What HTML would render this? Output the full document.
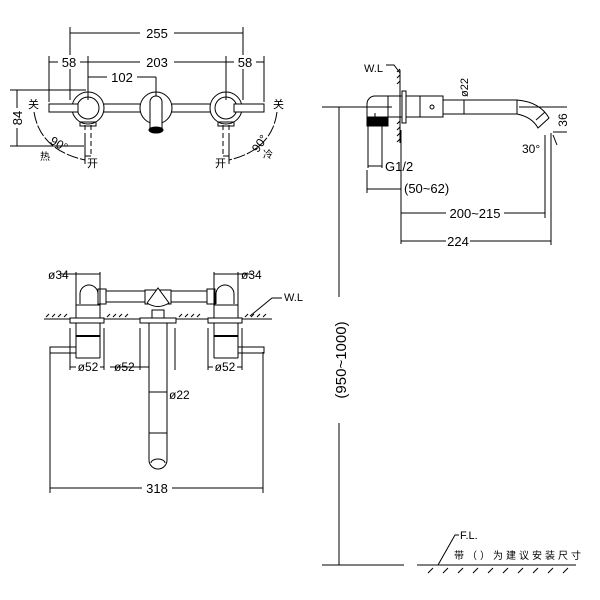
<!DOCTYPE html>
<html><head><meta charset="utf-8"><style>
html,body{margin:0;padding:0;background:#fff}
svg{display:block}
text{font-family:"Liberation Sans","Noto Sans CJK SC",sans-serif;fill:#000}
</style></head><body>
<svg width="600" height="600" viewBox="0 0 600 600" xmlns="http://www.w3.org/2000/svg" stroke="#000" fill="none" stroke-width="1">
<!-- TOP VIEW -->
<g>
<line x1="70" y1="33" x2="243" y2="33"/><line x1="70" y1="27" x2="70" y2="100"/><line x1="243" y1="27" x2="243" y2="100"/>
<rect x="140" y="26" width="34" height="14" fill="#fff" stroke="none"/>
<text x="157" y="38" font-size="13" text-anchor="middle" stroke="none">255</text>
<line x1="49" y1="62" x2="264" y2="62"/>
<line x1="49" y1="56" x2="49" y2="102"/><line x1="88" y1="56" x2="88" y2="100"/><line x1="226" y1="56" x2="226" y2="100"/><line x1="264" y1="56" x2="264" y2="102"/>
<rect x="58" y="55" width="22" height="14" fill="#fff" stroke="none"/><rect x="140" y="55" width="34" height="14" fill="#fff" stroke="none"/><rect x="234" y="55" width="22" height="14" fill="#fff" stroke="none"/>
<text x="69" y="67" font-size="13" text-anchor="middle" stroke="none">58</text>
<text x="157" y="67" font-size="13" text-anchor="middle" stroke="none">203</text>
<text x="245" y="67" font-size="13" text-anchor="middle" stroke="none">58</text>
<line x1="88" y1="77" x2="156" y2="77"/><line x1="156" y1="77" x2="156" y2="100"/>
<rect x="107" y="70" width="30" height="14" fill="#fff" stroke="none"/>
<text x="122" y="82" font-size="13" text-anchor="middle" stroke="none">102</text>
<line x1="10" y1="90" x2="86" y2="90"/><line x1="10" y1="146" x2="84" y2="146"/><line x1="17" y1="90" x2="17" y2="146"/>
<rect x="10" y="108" width="14" height="20" fill="#fff" stroke="none"/>
<text x="22" y="118" font-size="13" text-anchor="middle" stroke="none" transform="rotate(-90 22 118)">84</text>
<!-- pipes -->
<line x1="104" y1="104" x2="140" y2="104"/><line x1="104" y1="112" x2="140" y2="112"/>
<line x1="172" y1="104" x2="210" y2="104"/><line x1="172" y1="112" x2="210" y2="112"/>
<!-- handles -->
<circle cx="88" cy="108" r="16"/><circle cx="88" cy="108" r="11"/>
<circle cx="226" cy="108" r="16"/><circle cx="226" cy="108" r="11"/>
<rect x="49" y="104" width="29" height="8" fill="#fff"/><rect x="234" y="104" width="30" height="8" fill="#fff"/>
<path d="M80 122 h16 v4 h-16z"/><path d="M218 122 h16 v4 h-16z"/>
<!-- spout -->
<circle cx="156" cy="108" r="16"/>
<path d="M150 128 V102 a6 6 0 0 1 12 0 V128" fill="#fff"/>
<ellipse cx="156" cy="130" rx="7" ry="3" fill="#000"/>
<!-- dashed lines -->
<g stroke-dasharray="5,3"><line x1="85" y1="125" x2="85" y2="156"/><line x1="91" y1="125" x2="91" y2="156"/><line x1="223" y1="125" x2="223" y2="156"/><line x1="229" y1="125" x2="229" y2="156"/></g>
<line x1="85" y1="156" x2="91" y2="156"/><line x1="223" y1="156" x2="229" y2="156"/>
<line x1="85" y1="134" x2="85" y2="164"/><line x1="229" y1="134" x2="229" y2="164"/>
<path d="M34 112 Q40 150 85 160" stroke-dasharray="12,2"/>
<path d="M277 112 Q272 150 229 160" stroke-dasharray="12,2"/>
<text x="28" y="108" font-size="11" stroke="none">关</text>
<text x="273" y="108" font-size="11" stroke="none">关</text>
<text x="87" y="167" font-size="11" stroke="none">开</text>
<text x="215" y="167" font-size="11" stroke="none">开</text>
<text x="40" y="160" font-size="10" stroke="none">热</text>
<text x="263" y="158" font-size="10" stroke="none">冷</text>
<text x="48" y="147" font-size="12" stroke="none" transform="rotate(30 56 147)">90°</text>
<text x="252" y="148" font-size="12" stroke="none" transform="rotate(-55 260 145)">90°</text>
</g>
<!-- SIDE VIEW -->
<g>
<text x="364" y="72" font-size="11" stroke="none">W.L</text>
<path d="M386 65 h8 l6 8"/>
<line x1="400" y1="70" x2="400" y2="143"/>
<path d="M397 72 l3 -3 M397 78 l3 -3 M397 84 l3 -3 M397 124 l3 -3 M397 130 l3 -3 M397 136 l3 -3 M397 142 l3 -3"/>
<line x1="322" y1="107" x2="392" y2="107"/>
<line x1="339" y1="107" x2="339" y2="297"/><line x1="339" y1="423" x2="339" y2="565"/>
<text x="346" y="360" font-size="15" text-anchor="middle" stroke="none" transform="rotate(-90 346 360)">(950~1000)</text>
<path d="M367 117 V104 a8 8 0 0 1 8 -8 H388" />
<rect x="367" y="117" width="21" height="9" fill="#000"/>
<line x1="375" y1="113" x2="375" y2="117"/>
<rect x="388" y="96" width="14" height="21"/>
<rect x="402" y="91" width="4" height="32" fill="#fff"/>
<rect x="406" y="96" width="14" height="21"/>
<rect x="420" y="96" width="23" height="21"/>
<circle cx="432" cy="107" r="2"/>
<rect x="443" y="100" width="74" height="14"/>
<line x1="464" y1="100" x2="464" y2="114"/>
<path d="M517 100 Q540 102 549 118 L538 128 Q532 117 517 114"/>
<line x1="536" y1="120" x2="545" y2="112"/>
<text x="468" y="97" font-size="11" stroke="none" transform="rotate(-90 468 97)">ø22</text>
<line x1="519" y1="107" x2="567" y2="107"/><line x1="553" y1="132" x2="567" y2="132"/>
<text x="567" y="120" font-size="12" text-anchor="middle" stroke="none" transform="rotate(-90 567 120)">36</text>
<text x="522" y="153" font-size="12" stroke="none">30°</text>
<path d="M553 135 l4 10"/>
<line x1="368" y1="122" x2="368" y2="168"/><line x1="382" y1="122" x2="382" y2="168"/><line x1="368" y1="166" x2="382" y2="166"/>
<text x="385" y="171" font-size="13" stroke="none">G1/2</text>
<line x1="367" y1="170" x2="367" y2="193"/><line x1="367" y1="189" x2="401" y2="189"/>
<line x1="401" y1="130" x2="401" y2="244"/>
<text x="404" y="193" font-size="13" stroke="none">(50~62)</text>
<line x1="401" y1="213" x2="545" y2="213"/><line x1="545" y1="135" x2="545" y2="218"/>
<rect x="446" y="206" width="58" height="14" fill="#fff" stroke="none"/>
<text x="475" y="218" font-size="13" text-anchor="middle" stroke="none">200~215</text>
<line x1="401" y1="241" x2="551" y2="241"/><line x1="551" y1="133" x2="551" y2="245"/>
<rect x="446" y="234" width="24" height="14" fill="#fff" stroke="none"/>
<text x="458" y="246" font-size="13" text-anchor="middle" stroke="none">224</text>
<!-- floor -->
<line x1="322" y1="565" x2="404" y2="565"/><line x1="417" y1="565" x2="576" y2="565"/>
<path d="M428 573 l5 -5 M443 573 l5 -5 M458 573 l5 -5 M473 573 l5 -5 M488 573 l5 -5 M503 573 l5 -5 M518 573 l5 -5 M533 573 l5 -5 M548 573 l5 -5 M563 573 l5 -5"/>
<path d="M438 565 l17 -30 h4"/>
<text x="460" y="539" font-size="11" stroke="none">F.L.</text>
<text x="454" y="559" font-size="10" stroke="none" letter-spacing="3">带（）为建议安装尺寸</text>
</g>
<!-- FRONT VIEW -->
<g>
<line x1="44" y1="319" x2="272" y2="319"/>
<path d="M46 317 l3 -3 M52 317 l3 -3 M58 317 l3 -3 M64 317 l3 -3 M107 317 l3 -3 M113 317 l3 -3 M119 317 l3 -3 M125 317 l3 -3 M179 317 l3 -3 M185 317 l3 -3 M191 317 l3 -3 M197 317 l3 -3 M245 317 l3 -3 M251 317 l3 -3 M257 317 l3 -3 M263 317 l3 -3"/>
<path d="M250 316 l22 -18 h10"/>
<text x="284" y="301" font-size="11" stroke="none">W.L</text>
<!-- left handle -->
<line x1="76" y1="272" x2="76" y2="358"/><line x1="100" y1="272" x2="100" y2="358"/>
<line x1="60" y1="274" x2="100" y2="274"/>
<text x="48" y="279" font-size="12" stroke="none">ø34</text>
<path d="M80 304 V294 a9 9 0 0 1 18 0 V304"/>
<line x1="76" y1="305" x2="100" y2="305"/>
<rect x="98" y="289" width="8" height="15"/>
<rect x="70" y="318" width="34" height="5" fill="#fff"/>
<line x1="76" y1="336" x2="100" y2="336" stroke-width="2"/>
<line x1="76" y1="358" x2="100" y2="358"/>
<rect x="50" y="347" width="26" height="6"/>
<line x1="70" y1="328" x2="70" y2="370"/><line x1="104" y1="328" x2="104" y2="370"/>
<line x1="70" y1="367" x2="104" y2="367"/>
<rect x="76" y="360" width="24" height="14" fill="#fff" stroke="none"/>
<text x="88" y="371" font-size="12" text-anchor="middle" stroke="none">ø52</text>
<!-- right handle -->
<line x1="214" y1="272" x2="214" y2="358"/><line x1="238" y1="272" x2="238" y2="358"/>
<line x1="214" y1="274" x2="252" y2="274"/>
<text x="241" y="279" font-size="12" stroke="none">ø34</text>
<path d="M216 304 V294 a9 9 0 0 1 18 0 V304"/>
<line x1="214" y1="305" x2="238" y2="305"/>
<rect x="207" y="289" width="8" height="15"/>
<rect x="208" y="318" width="34" height="5" fill="#fff"/>
<line x1="214" y1="336" x2="238" y2="336" stroke-width="2"/>
<line x1="214" y1="358" x2="238" y2="358"/>
<rect x="238" y="347" width="26" height="6"/>
<line x1="208" y1="328" x2="208" y2="370"/><line x1="242" y1="328" x2="242" y2="370"/>
<line x1="208" y1="367" x2="242" y2="367"/>
<rect x="213" y="360" width="24" height="14" fill="#fff" stroke="none"/>
<text x="225" y="371" font-size="12" text-anchor="middle" stroke="none">ø52</text>
<!-- center -->
<line x1="106" y1="291" x2="145" y2="291"/><line x1="106" y1="302" x2="145" y2="302"/>
<line x1="171" y1="291" x2="207" y2="291"/><line x1="171" y1="302" x2="207" y2="302"/>
<rect x="145" y="290" width="26" height="14"/>
<path d="M147 303 L158 288 L169 303 Q158 310 147 303" fill="#fff"/>
<rect x="152" y="310" width="12" height="8"/>
<rect x="140" y="318" width="36" height="5" fill="#fff"/>
<path d="M149 323 V460 a9 9 0 0 0 18 0 V323"/>
<line x1="149" y1="392" x2="167" y2="392"/><line x1="149" y1="433" x2="167" y2="433"/>
<path d="M151 463 a7 4 0 0 1 14 0"/>
<line x1="140" y1="328" x2="140" y2="370"/><line x1="175" y1="328" x2="175" y2="370"/>
<line x1="110" y1="367" x2="149" y2="367"/>
<text x="114" y="371" font-size="12" stroke="none">ø52</text>
<text x="169" y="399" font-size="12" stroke="none">ø22</text>
<line x1="50" y1="352" x2="50" y2="493"/><line x1="263" y1="352" x2="263" y2="493"/>
<line x1="50" y1="488" x2="263" y2="488"/>
<rect x="142" y="481" width="30" height="14" fill="#fff" stroke="none"/>
<text x="157" y="493" font-size="13" text-anchor="middle" stroke="none">318</text>
</g>
</svg>
</body></html>
